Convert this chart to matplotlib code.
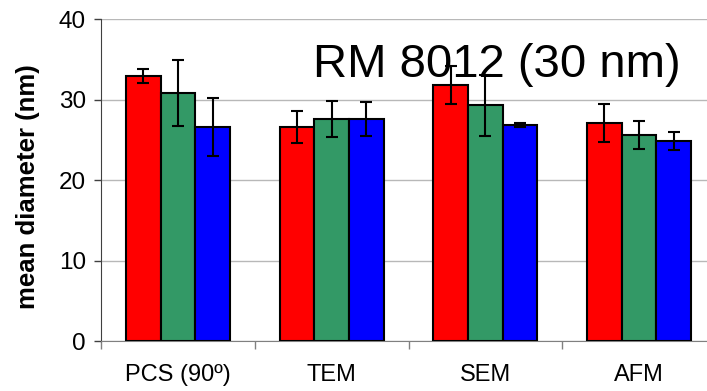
import numpy as np
import matplotlib.pyplot as plt

plt.rcParams['font.family'] = ['Liberation Sans', 'DejaVu Sans']

categories = ["PCS (90º)", "TEM", "SEM", "AFM"]
red_vals = [32.9, 26.6, 31.8, 27.1]
red_err = [0.85, 2.0, 2.35, 2.35]
green_vals = [30.8, 27.6, 29.3, 25.6]
green_err = [4.1, 2.25, 3.75, 1.75]
blue_vals = [26.6, 27.6, 26.85, 24.9]
blue_err = [3.6, 2.1, 0.3, 1.1]

fig = plt.figure(figsize=(7.07, 3.91), dpi=100)
ax = fig.add_axes([0.1429, 0.1266, 0.8698, 0.8248])

xx = np.arange(len(categories)) + 0.5
w = 0.226
series = [(red_vals, red_err, "#ff0000"),
          (green_vals, green_err, "#339966"),
          (blue_vals, blue_err, "#0000ff")]
for i, (vals, err, col) in enumerate(series):
    ax.bar(xx + (i - 1) * w, vals, width=w, color=col, edgecolor="black",
           linewidth=1.5, zorder=3)
    ax.errorbar(xx + (i - 1) * w, vals, yerr=err, fmt="none", ecolor="black",
                elinewidth=1.5, capsize=4.5, capthick=1.5, zorder=4)

ax.set_xlim(0, 4)
ax.set_ylim(0, 40)
ax.set_yticks([0, 10, 20, 30, 40])
ax.tick_params(axis="y", labelsize=17.5, length=5, width=1, color="#404040", pad=6)
ax.set_xticks([0, 1, 2, 3, 4])
ax.set_xticklabels([])
ax.tick_params(axis="x", which="major", length=6, width=1, color="#808080")
ax.set_xticks(xx, minor=True)
ax.set_xticklabels(categories, minor=True)
ax.tick_params(axis="x", which="minor", length=0, labelsize=17, pad=16)

ax.yaxis.grid(True, color="#b8b8b8", linewidth=1, zorder=0)
ax.set_axisbelow(True)
for s in ["top", "right"]:
    ax.spines[s].set_visible(False)
ax.spines["left"].set_color("#404040")
ax.spines["bottom"].set_color("#808080")

ax.set_ylabel("mean diameter (nm)", fontsize=18.5, fontweight="bold")
ax.yaxis.set_label_coords(-0.099, 0.48)

ax.text(0.345, 0.821, "RM 8012 (30 nm)", transform=ax.transAxes,
        fontsize=34, va="baseline", ha="left", zorder=2)

fig.savefig("out.png", dpi=100)
